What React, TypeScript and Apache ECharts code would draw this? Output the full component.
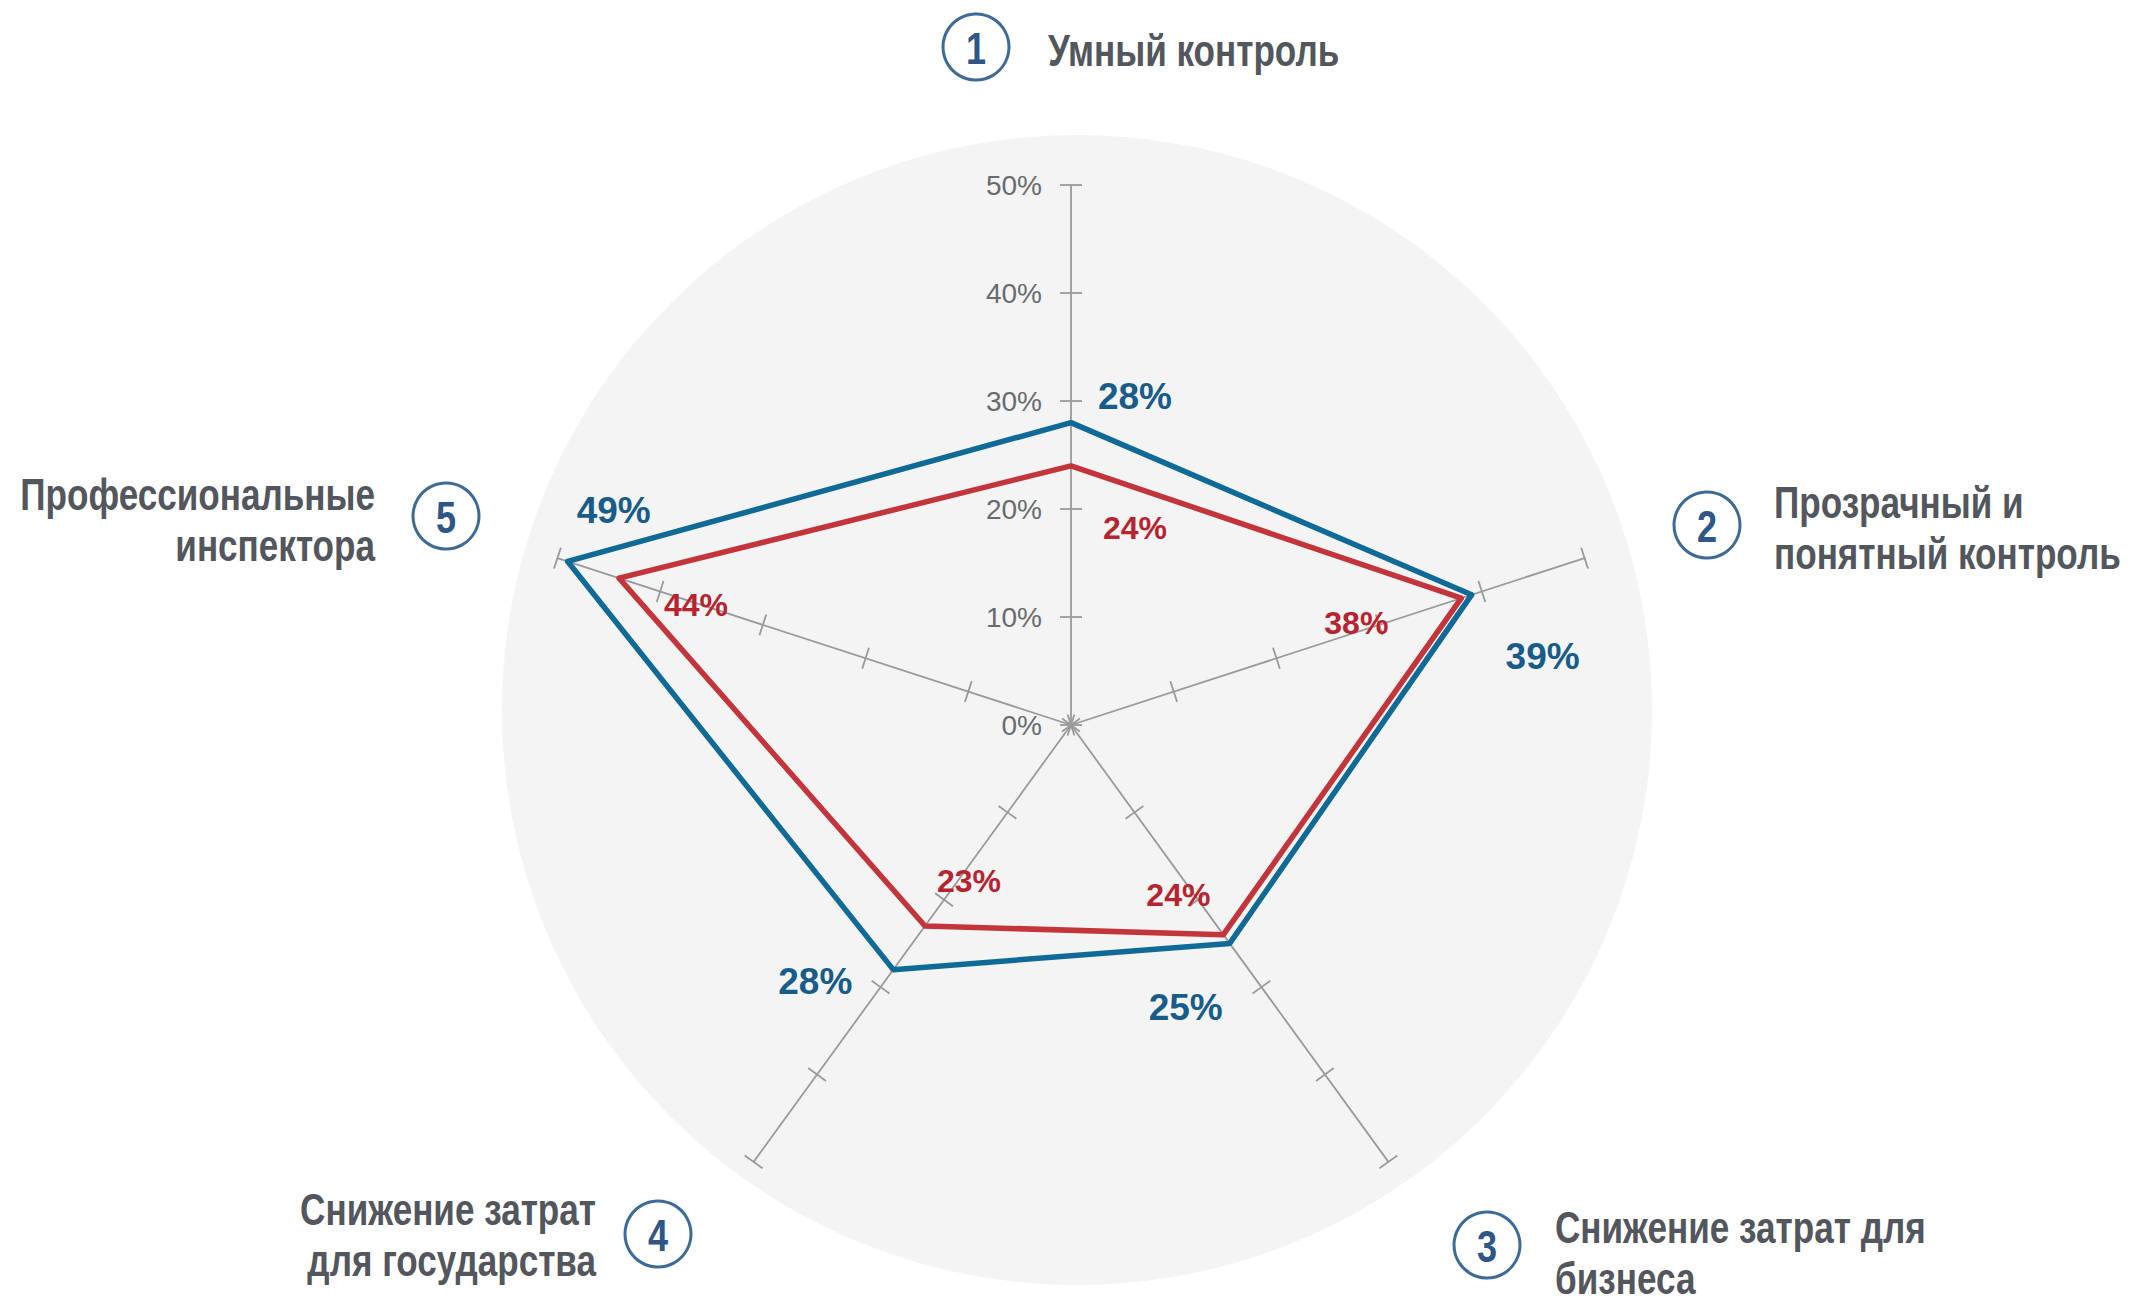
import React, { useEffect, useRef } from "react";
import * as echarts from "echarts";

const categories = [
  "Умный контроль",
  "Прозрачный и\nпонятный контроль",
  "Снижение затрат для\nбизнеса",
  "Снижение затрат\nдля государства",
  "Профессиональные\nинспектора",
];
const categoryNumbers = ["1", "2", "3", "4", "5"];
const blueValues = [28, 39, 25, 28, 49];
const redValues = [24, 38, 24, 23, 44];
const axisMax = 50;
const axisStep = 10;

const FONT = "'Liberation Sans Narrow', 'Arial Narrow', 'Liberation Sans', Arial, sans-serif";
const CENTER: [number, number] = [1071, 725];
const RADIUS = 540;
const NARROW = 0.78;

// order of categories around the radar so that they go clockwise
const order = [0, 4, 3, 2, 1];

// label offsets (dx, dy) from data point per category
const blueOffsets: [number, number][] = [[64, -26], [71, 62], [-44, 64], [-78, 12], [46, -51]];
const redOffsets: [number, number][] = [[64, 62], [-105, 25], [-45, -40], [44, -45], [77, 27]];

// category label layout
const labelLayout = [
  { cx: 976, cy: 47, tx: 1048, ty: 50, align: "left" },
  { cx: 1707, cy: 525, tx: 1774, ty: 528, align: "left" },
  { cx: 1487, cy: 1245, tx: 1555, ty: 1253, align: "left" },
  { cx: 658, cy: 1234, tx: 596, ty: 1235, align: "right" },
  { cx: 446, cy: 516, tx: 375, ty: 520, align: "right" },
];

function richFor(offsets: [number, number][], color: string, fontSize: number) {
  const rich: any = {};
  order.forEach((catIdx, dim) => {
    const [dx, dy] = offsets[catIdx];
    rich["d" + dim] = {
      color,
      fontSize,
      fontWeight: "bold",
      fontFamily: FONT,
      padding: [dy > 0 ? 2 * dy : 0, dx < 0 ? -2 * dx : 0, dy < 0 ? -2 * dy : 0, dx > 0 ? 2 * dx : 0],
    };
  });
  return rich;
}

export default function App() {
  const ref = useRef<HTMLDivElement>(null);
  useEffect(() => {
    if (!ref.current) return;
    const chart = echarts.init(ref.current, null, { renderer: "svg" });
    const indicator = order.map((i) => ({ name: categories[i], min: 0, max: axisMax }));
    const radarBase = {
      center: CENTER,
      radius: RADIUS,
      startAngle: 90,
      splitNumber: axisMax / axisStep,
      shape: "polygon",
      indicator,
      axisName: { show: false },
      splitLine: { show: false },
      splitArea: { show: false },
      axisLabel: { show: false },
    };
    const tickStyle = { color: "#9a9a9a", width: 1.8 };
    const graphics: any[] = [
      {
        type: "circle",
        shape: { cx: 1077, cy: 710, r: 575 },
        style: { fill: "#f4f4f4" },
        z: -10,
        silent: true,
      },
    ];
    categories.forEach((name, i) => {
      const l = labelLayout[i];
      graphics.push({
        type: "circle",
        shape: { cx: l.cx, cy: l.cy, r: 33 },
        style: { fill: "none", stroke: "#3e6a98", lineWidth: 3 },
        z: 10,
      });
      graphics.push({
        type: "text",
        x: l.cx,
        y: l.cy + 2,
        scaleX: 0.82,
        style: {
          text: categoryNumbers[i],
          fill: "#2e5687",
          fontSize: 44,
          fontWeight: "bold",
          fontFamily: FONT,
          align: "center",
          verticalAlign: "middle",
        },
        z: 10,
      });
      graphics.push({
        type: "text",
        x: l.tx,
        y: l.ty,
        scaleX: NARROW,
        style: {
          text: name,
          fill: "#53575d",
          fontSize: 45,
          fontWeight: "bold",
          fontFamily: FONT,
          align: l.align,
          verticalAlign: "middle",
          lineHeight: 51,
        },
        z: 10,
      });
    });

    const option: any = {
      animation: false,
      backgroundColor: "#ffffff",
      graphic: graphics,
      grid: { left: CENTER[0], top: CENTER[1] - RADIUS, width: 1, height: RADIUS },
      xAxis: { type: "value", show: false },
      yAxis: {
        type: "value",
        min: 0,
        max: axisMax,
        interval: axisStep,
        axisLine: { show: false },
        axisTick: { show: false },
        splitLine: { show: false },
        axisLabel: {
          formatter: "{value}%",
          margin: 29,
          fontSize: 28,
          color: "#686b70",
          fontFamily: FONT,
        },
      },
      radar: [
        {
          ...radarBase,
          axisLine: { lineStyle: { color: "#9a9a9a", width: 1.8 } },
          axisTick: { show: true, length: 11, lineStyle: tickStyle },
        },
        {
          ...radarBase,
          axisLine: { show: true, lineStyle: { color: "#9a9a9a", width: 1.8, opacity: 0 } },
          axisTick: { show: true, length: -11, lineStyle: tickStyle },
        },
      ],
      series: [
        {
          type: "radar",
          radarIndex: 0,
          symbol: "circle",
          symbolSize: 5,
          z: 5,
          data: [
            {
              name: "red",
              value: order.map((i) => redValues[i]),
              lineStyle: { color: "#c4353b", width: 5.5 },
              itemStyle: { color: "#c4353b" },
              label: {
                show: true,
                position: "inside",
                formatter: (p: any) => `{d${p.dimensionIndex}|${p.value}%}`,
                rich: richFor(redOffsets, "#b7242f", 32),
              },
            },
            {
              name: "blue",
              value: order.map((i) => blueValues[i]),
              lineStyle: { color: "#106a97", width: 5.5 },
              itemStyle: { color: "#106a97" },
              label: {
                show: true,
                position: "inside",
                formatter: (p: any) => `{d${p.dimensionIndex}|${p.value}%}`,
                rich: richFor(blueOffsets, "#185c8a", 37),
              },
            },
          ],
        },
      ],
    };
    chart.setOption(option);
    return () => chart.dispose();
  }, []);
  return (
    <div
      ref={ref}
      style={{ position: "fixed", left: 0, top: 0, width: 2145, height: 1304, background: "#fff" }}
    />
  );
}
